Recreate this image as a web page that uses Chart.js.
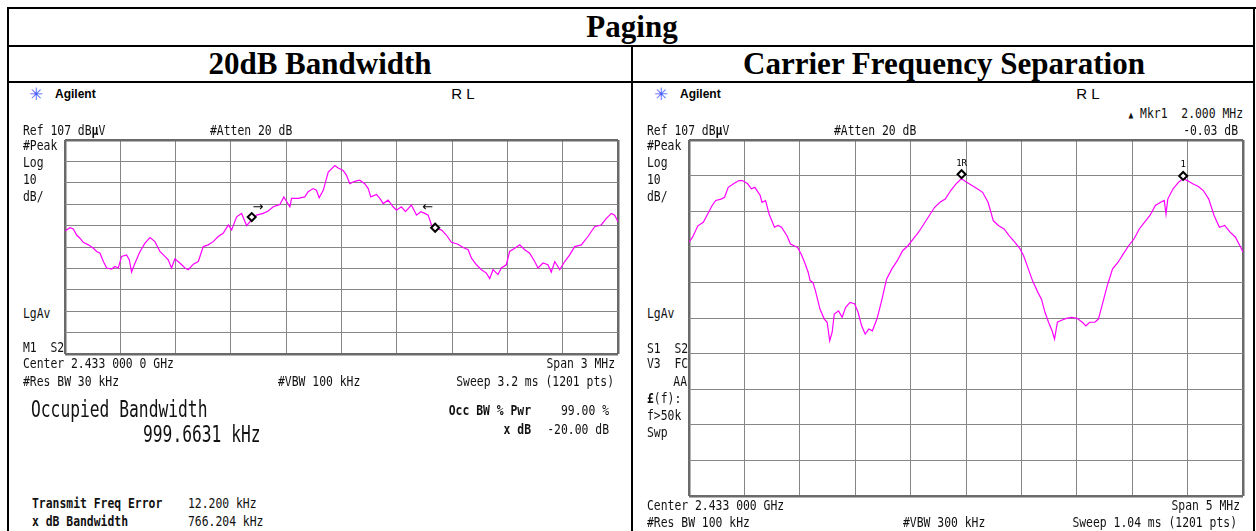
<!DOCTYPE html>
<html><head><meta charset="utf-8">
<script src="https://cdn.jsdelivr.net/npm/chart.js@4.4.1/dist/chart.umd.min.js"></script>
<style>
html,body{margin:0;padding:0;background:#fff;}
#root{position:relative;width:1256px;height:531px;overflow:hidden;background:#fff;}
.ln{position:absolute;background:#000;}
.t{position:absolute;white-space:pre;font-family:"DejaVu Sans Mono",monospace;font-size:11.4px;line-height:14px;height:14px;color:#111;}
.big{font-size:16.3px;line-height:20px;height:20px;}
.bd{font-weight:bold;}
.hd{position:absolute;white-space:pre;font-family:"Liberation Serif","Times New Roman",serif;font-weight:bold;font-size:31px;line-height:36px;height:36px;color:#000;}
.ag{position:absolute;white-space:pre;font-family:"Liberation Sans",Arial,sans-serif;font-weight:bold;font-size:12px;line-height:14px;color:#000;}
.rl{position:absolute;white-space:pre;font-family:"Liberation Sans",Arial,sans-serif;font-size:15px;line-height:16px;color:#000;}
.star{position:absolute;font-family:"DejaVu Sans",sans-serif;font-size:17px;line-height:18px;color:#4a5cff;}
canvas{position:absolute;}
</style></head>
<body>
<div id="root">
  <canvas id="cL" width="559" height="220" style="left:62px;top:137px;"></canvas>
  <canvas id="cR" width="560" height="362" style="left:686px;top:137px;"></canvas>
</div>
<script>
// ---------- data ----------
const leftFreq = [-1.500,-1.473,-1.455,-1.437,-1.419,-1.401,-1.373,-1.346,-1.328,-1.310,
 -1.292,-1.274,-1.247,-1.229,-1.211,-1.193,-1.166,-1.151,-1.139,-1.120,
 -1.093,-1.066,-1.039,-1.012,-0.985,-0.958,-0.940,-0.922,-0.904,-0.877,
 -0.849,-0.831,-0.804,-0.777,-0.750,-0.723,-0.696,-0.669,-0.642,-0.614,
 -0.596,-0.569,-0.542,-0.515,-0.488,-0.461,-0.425,-0.398,-0.370,-0.334,
 -0.313,-0.280,-0.271,-0.235,-0.199,-0.181,-0.154,-0.136,-0.121,-0.099,
 -0.072,-0.036,-0.018,0.009,0.027,0.045,0.072,0.099,0.126,0.145,
 0.159,0.190,0.208,0.226,0.253,0.280,0.298,0.325,0.347,0.379,
 0.407,0.430,0.452,0.470,0.488,0.506,0.542,0.569,0.596,0.632,
 0.660,0.687,0.705,0.732,0.759,0.786,0.804,0.822,0.849,0.867,
 0.894,0.912,0.940,0.967,0.994,1.021,1.048,1.066,1.093,1.120,
 1.138,1.157,1.184,1.211,1.238,1.265,1.301,1.337,1.373,1.409,
 1.437,1.464,1.482,1.500];
const leftLevel = [64.5,66.0,65.4,62.6,61.1,59.2,58.0,56.4,54.9,54.1,
 50.2,47.2,46.7,47.9,47.2,52.6,53.3,51.0,45.3,49.5,
 54.9,58.8,61.4,59.5,54.9,52.6,51.0,47.2,51.5,49.5,
 47.2,46.4,49.0,50.2,57.2,58.0,59.5,61.9,63.4,67.3,
 65.0,71.1,72.7,67.0,69.6,71.9,72.7,73.8,75.8,76.9,
 80.4,75.8,79.7,79.7,80.4,82.8,84.3,83.5,80.0,83.5,
 92.0,95.1,93.9,92.8,90.5,86.6,87.7,88.2,86.6,84.3,
 80.4,81.5,79.7,77.3,78.9,75.8,74.2,75.8,73.5,76.6,
 71.9,73.5,72.7,71.9,67.3,65.7,65.0,62.6,59.2,58.3,
 56.8,55.7,51.8,48.7,46.4,44.8,42.2,46.4,44.1,47.2,
 48.7,54.9,56.4,58.0,55.7,54.1,50.2,47.2,49.5,48.7,
 45.3,50.2,46.4,50.2,53.3,57.2,58.0,61.9,66.5,67.3,
 70.4,72.7,71.9,68.8];
const leftMarkerFreq = [-0.487, 0.508];
const leftMarkerLevel = [71.0, 66.0];
const leftArrowFreq = [-0.453, 0.467];
const leftArrowLevel = [75.2, 75.2];
const leftArrowText = ['\u2192', '\u2190'];

const rightFreq = [-2.500,-2.468,-2.420,-2.371,-2.323,-2.291,-2.259,-2.211,-2.179,-2.146,
 -2.098,-2.050,-2.018,-1.970,-1.938,-1.906,-1.857,-1.841,-1.809,-1.777,
 -1.729,-1.697,-1.665,-1.616,-1.584,-1.552,-1.520,-1.488,-1.456,-1.424,
 -1.407,-1.382,-1.359,-1.318,-1.279,-1.253,-1.230,-1.208,-1.189,-1.150,
 -1.118,-1.086,-1.047,-1.006,-0.974,-0.942,-0.910,-0.877,-0.845,-0.804,
 -0.765,-0.717,-0.669,-0.620,-0.572,-0.524,-0.476,-0.428,-0.380,-0.331,
 -0.283,-0.235,-0.187,-0.138,-0.090,-0.042,0.006,0.054,0.102,0.150,
 0.199,0.247,0.295,0.343,0.391,0.440,0.488,0.520,0.552,0.600,
 0.649,0.681,0.713,0.745,0.777,0.799,0.825,0.857,0.906,0.954,
 1.002,1.050,1.082,1.115,1.163,1.195,1.227,1.275,1.323,1.371,
 1.420,1.468,1.516,1.564,1.612,1.660,1.709,1.757,1.789,1.805,
 1.821,1.869,1.917,1.959,1.998,2.046,2.094,2.142,2.191,2.239,
 2.287,2.335,2.383,2.432,2.480,2.500];
const rightLevel = [78.3,79.7,82.9,83.9,86.7,88.6,90.0,90.4,90.9,93.7,
 94.7,95.6,95.6,94.7,93.3,93.7,91.4,89.5,90.0,86.2,
 82.5,83.0,82.5,80.1,77.8,77.3,76.8,75.0,72.6,69.8,
 67.5,67.0,64.7,59.5,56.7,55.8,50.6,53.0,58.1,59.0,
 57.2,60.0,61.4,61.0,58.6,54.8,52.5,53.9,53.4,56.7,
 61.4,67.9,70.8,73.1,75.9,77.3,79.2,81.1,83.4,85.8,
 88.1,89.5,90.4,92.8,94.7,96.1,95.1,94.2,93.3,92.3,
 89.5,84.3,82.9,82.0,80.1,78.3,76.4,74.5,71.7,67.5,
 64.2,62.3,58.6,55.8,53.4,51.1,55.8,56.3,56.9,57.2,
 56.9,55.8,54.8,55.8,55.8,56.7,60.4,66.1,70.8,72.6,
 75.0,77.3,79.2,82.0,83.9,85.8,88.6,89.5,90.0,86.2,
 90.4,93.3,95.1,96.1,95.6,94.7,94.0,92.8,90.4,85.8,
 82.5,83.0,81.1,79.7,76.8,75.5];
const rightMarkerFreq = [-0.040, 1.960];
const rightMarkerLevel = [97.4, 96.9];
const rightMarkerText = ['1R', '1'];

const leftFreqTicks = [-1.5,-1.2,-0.9,-0.6,-0.3,0,0.3,0.6,0.9,1.2,1.5];
const rightFreqTicks = [-2.5,-2.0,-1.5,-1.0,-0.5,0,0.5,1.0,1.5,2.0,2.5];
const levelTicks = [7,17,27,37,47,57,67,77,87,97,107];

// ---------- static layout ----------
const root = document.getElementById('root');
function line(x,y,w,h){const d=document.createElement('div');d.className='ln';d.style.cssText=`left:${x}px;top:${y}px;width:${w}px;height:${h}px;`;root.appendChild(d);}
line(7,7,1249,2);       // top
line(7,7,2,524);        // left
line(1253,7,2,524);     // right
line(7,45,1248,2);      // under Paging
line(7,81,1248,2);      // under headers
line(631,45,2,486);     // middle separator

function txt(x,yc,html,align,cls,lh,sy){
  const d=document.createElement('div');
  d.className=cls||'t';
  d.innerHTML=html;
  lh = lh||14;
  d.style.top=(yc-lh/2)+'px';
  let tf='';
  if(align==='r'){d.style.right=(1256-x)+'px';}
  else if(align==='c'){d.style.left=x+'px';tf+='translateX(-50%) ';}
  else d.style.left=x+'px';
  if(sy){tf+='scaleY('+sy+')';}
  if(tf) d.style.transform=tf;
  root.appendChild(d);
}
// headers
txt(632,27,'Paging','c','hd',36);
txt(320,64,'20dB Bandwidth','c','hd',36);
txt(944,64,'Carrier Frequency Separation','c','hd',36);
// logos
txt(36,94,'\u2733','c','star',18);
txt(55,94,'Agilent','l','ag',14);
txt(661,94,'\u2733','c','star',18);
txt(680,94,'Agilent','l','ag',14);
txt(463,94,'R L','c','rl',16);
txt(1088,94,'R L','c','rl',16);
const S=1.25;
// left panel
txt(23,130,'Ref 107 dB<b>\u00b5</b>V','l','t',14,S);
txt(210,130,'#Atten 20 dB','l','t',14,S);
txt(23,145,'#Peak','l','t',14,S);
txt(23,162,'Log','l','t',14,S);
txt(23,179,'10','l','t',14,S);
txt(23,196,'dB/','l','t',14,S);
txt(23,313,'LgAv','l','t',14,S);
txt(23,347,'M1  S2','l','t',14,S);
txt(23,363,'Center 2.433 000 0 GHz','l','t',14,S);
txt(23,381,'#Res BW 30 kHz','l','t',14,S);
txt(278,381,'#VBW 100 kHz','l','t',14,S);
txt(615,363,'Span 3 MHz','r','t',14,S);
txt(614,381,'Sweep 3.2 ms (1201 pts)','r','t',14,S);
txt(31,410,'Occupied Bandwidth','l','t big',20,1.4);
txt(143,435,'999.6631 kHz','l','t big',20,1.4);
txt(531,410,'Occ BW % Pwr','r','t bd',14,S);
txt(531,429,'x dB','r','t bd',14,S);
txt(609,410,'99.00 %','r','t',14,S);
txt(609,429,'-20.00 dB','r','t',14,S);
txt(32,503,'Transmit Freq Error','l','t bd',14,S);
txt(188,503,'12.200 kHz','l','t',14,S);
txt(32,521,'x dB Bandwidth','l','t bd',14,S);
txt(188,521,'766.204 kHz','l','t',14,S);
// right panel
txt(647,130,'Ref 107 dB<b>\u00b5</b>V','l','t',14,S);
txt(834,130,'#Atten 20 dB','l','t',14,S);
txt(1243,113,'<span style="font-size:8px">\u25b2</span> Mkr1  2.000 MHz','r','t',14,S);
txt(1238,130,'-0.03 dB','r','t',14,S);
txt(647,145,'#Peak','l','t',14,S);
txt(647,162,'Log','l','t',14,S);
txt(647,179,'10','l','t',14,S);
txt(647,196,'dB/','l','t',14,S);
txt(647,313,'LgAv','l','t',14,S);
txt(647,348,'S1  S2','l','t',14,S);
txt(647,363,'V3  FC','l','t',14,S);
txt(687,381,'AA','r','t',14,S);
txt(647,398,'<b>\u00a3</b>(f):','l','t',14,S);
txt(647,415,'f&gt;50k','l','t',14,S);
txt(647,432,'Swp','l','t',14,S);
txt(647,505,'Center 2.433 000 GHz','l','t',14,S);
txt(647,522,'#Res BW 100 kHz','l','t',14,S);
txt(903,522,'#VBW 300 kHz','l','t',14,S);
txt(1240,505,'Span 5 MHz','r','t',14,S);
txt(1237,522,'Sweep 1.04 ms (1201 pts)','r','t',14,S);

// ---------- charts ----------
const labelPlugin = {
  id:'mkrLabels',
  afterDatasetsDraw(chart, args, opts){
    const {ctx, scales:{x,y}} = chart;
    ctx.save();
    ctx.fillStyle='#000';
    ctx.textAlign='center';
    ctx.textBaseline='middle';
    ctx.font=opts.font;
    opts.freq.forEach((f,i)=>{
      ctx.fillText(opts.text[i], x.getPixelForValue(f)+opts.dx, y.getPixelForValue(opts.level[i])+opts.dy);
    });
    ctx.restore();
  }
};

function makeChart(id, freq, level, xTicks, mF, mL, lab){
  const last = xTicks.length-1;
  const gridW = c => (c.index===0 || c.index===last) ? 2.5 : 1;
  const gridC = c => (c.index===0 || c.index===last) ? '#6a6a6a' : '#868686';
  return new Chart(document.getElementById(id), {
    type:'line',
    data:{datasets:[
      {data: mF.map((f,i)=>({x:f,y:mL[i]})), showLine:false, pointStyle:'rectRot', pointRadius:4, pointBorderWidth:2,
       pointBorderColor:'#000', pointBackgroundColor:'#fff', borderColor:'#000', order:0},
      {data: freq.map((f,i)=>({x:f,y:level[i]})), borderColor:'#ff00ff', borderWidth:1.2, pointRadius:0, tension:0, fill:false, order:1}
    ]},
    options:{
      responsive:false, animation:false, devicePixelRatio:1,
      layout:{padding:3, autoPadding:false},
      plugins:{legend:{display:false}, tooltip:{enabled:false}, title:{display:false}, mkrLabels:lab},
      scales:{
        x:{type:'linear', min:xTicks[0], max:xTicks[last],
           afterBuildTicks:s=>{s.ticks=xTicks.map(v=>({value:v}));},
           ticks:{display:false}, border:{display:false},
           grid:{drawTicks:false, color:gridC, lineWidth:gridW}},
        y:{type:'linear', min:levelTicks[0], max:levelTicks[levelTicks.length-1],
           afterBuildTicks:s=>{s.ticks=levelTicks.map(v=>({value:v}));},
           ticks:{display:false}, border:{display:false},
           grid:{drawTicks:false, color:gridC, lineWidth:gridW}}
      }
    },
    plugins:[labelPlugin]
  });
}
makeChart('cL', leftFreq, leftLevel, leftFreqTicks, leftMarkerFreq, leftMarkerLevel,
  {freq:leftArrowFreq, level:leftArrowLevel, text:leftArrowText, dx:0, dy:0, font:'13px "DejaVu Sans"'});
makeChart('cR', rightFreq, rightLevel, rightFreqTicks, rightMarkerFreq, rightMarkerLevel,
  {freq:rightMarkerFreq, level:rightMarkerLevel, text:rightMarkerText, dx:0, dy:-11, font:'9px "DejaVu Sans Mono"'});
</script>
</body></html>
